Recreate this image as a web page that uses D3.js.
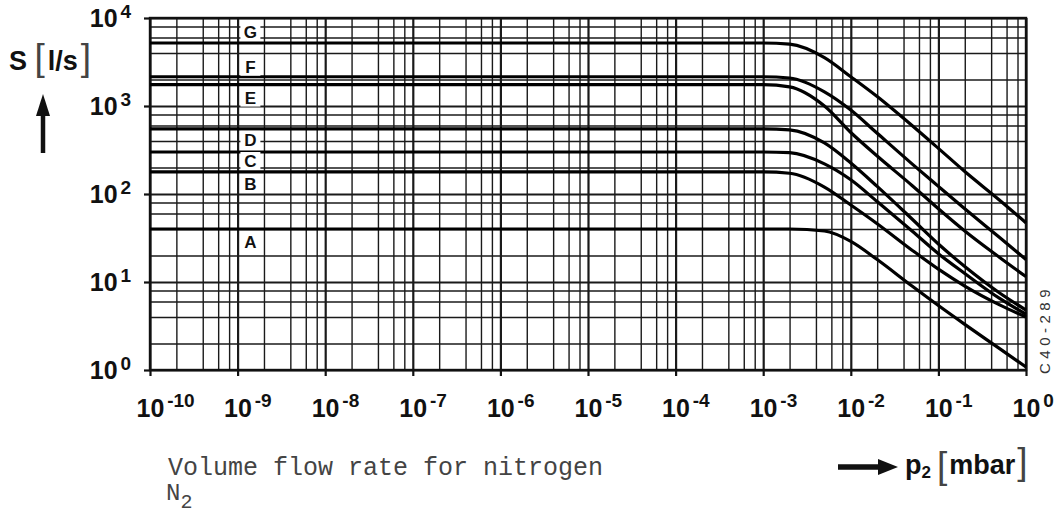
<!DOCTYPE html>
<html>
<head>
<meta charset="utf-8">
<script src="https://cdn.jsdelivr.net/npm/d3@7"></script>
<style>
  body { margin: 0; background: #fff; }
  svg text { font-family: "Liberation Sans", Arial, sans-serif; }
  .grid line { stroke: #1a1a1a; }
  .grid path { display: none; }
  .axis path { display: none; }
  .axis line { stroke: #111; stroke-width: 2.2; }
</style>
</head>
<body>
<div id="chart"></div>
<script>
// pressures p2 [mbar] where the curves were read
const pressures = [1e-10, 1e-3, 2e-3, 5e-3, 1e-2, 2e-2, 5e-2, 1e-1, 2e-1, 5e-1, 1];

// volume flow rate S [l/s] for each pump
const curveG = [5200, 5200, 5050, 3550, 2150, 1280, 600, 330, 180, 85, 47];
const curveF = [2150, 2150, 2080, 1450, 900, 490, 220, 122, 68, 32, 18];
const curveE = [1750, 1750, 1650, 1000, 500, 270, 125, 68, 38, 19, 11.5];
const curveD = [550, 550, 535, 380, 225, 122, 52, 27, 15, 7.5, 4.8];
const curveC = [300, 300, 295, 220, 145, 82, 38, 21, 12.5, 6.5, 4.3];
const curveB = [178, 178, 172, 120, 75, 46, 23, 14, 9, 5.5, 4.0];
const curveA = [40, 40, 40, 38, 29, 18, 9, 5.4, 3.3, 1.75, 1.08];

const curveNames = ["G", "F", "E", "D", "C", "B", "A"];
const curveValues = [curveG, curveF, curveE, curveD, curveC, curveB, curveA];

// axis decades
const xDecades = [-10, -9, -8, -7, -6, -5, -4, -3, -2, -1, 0];
const yDecades = [0, 1, 2, 3, 4];
const minorSteps = [2, 4, 6, 8];

const captionLines = ["Volume flow rate for nitrogen"];
const figureCode = "C40-289";

let margin = {top: 18, right: 29, bottom: 145, left: 150};
let width = 1055 - margin.left - margin.right;
let height = 515 - margin.top - margin.bottom;

let svg = d3.select("#chart").append("svg")
    .attr("width", 1055)
    .attr("height", 515);

let g = svg.append("g")
    .attr("transform", "translate(" + margin.left + "," + margin.top + ")");

// Scales
let x = d3.scaleLog()
    .domain([1e-10, 1])
    .range([0, width]);

let y = d3.scaleLog()
    .domain([1, 1e4])
    .range([height, 0]);

// minor grid values
let xMinor = [];
xDecades.slice(0, -1).forEach(function(e) {
    minorSteps.forEach(function(m) { xMinor.push(m * Math.pow(10, e)); });
});
let yMinor = [];
yDecades.slice(0, -1).forEach(function(e) {
    minorSteps.forEach(function(m) { yMinor.push(m * Math.pow(10, e)); });
});
let xMajor = xDecades.map(function(e) { return Math.pow(10, e); });
let yMajor = yDecades.map(function(e) { return Math.pow(10, e); });

// minor grid
g.append("g")
    .attr("class", "grid")
    .attr("transform", "translate(0," + height + ")")
    .call(d3.axisBottom(x).tickValues(xMinor).tickSize(-height).tickFormat(""))
    .selectAll("line").attr("stroke-width", 1.4);

g.append("g")
    .attr("class", "grid")
    .call(d3.axisLeft(y).tickValues(yMinor).tickSize(-width).tickFormat(""))
    .selectAll("line").attr("stroke-width", 1.4);

// major grid
g.append("g")
    .attr("class", "grid")
    .attr("transform", "translate(0," + height + ")")
    .call(d3.axisBottom(x).tickValues(xMajor).tickSize(-height).tickFormat(""))
    .selectAll("line").attr("stroke-width", 2.2);

g.append("g")
    .attr("class", "grid")
    .call(d3.axisLeft(y).tickValues(yMajor).tickSize(-width).tickFormat(""))
    .selectAll("line").attr("stroke-width", 2.2);

// frame
g.append("rect")
    .attr("x", 0).attr("y", 0)
    .attr("width", width).attr("height", height)
    .attr("fill", "none")
    .attr("stroke", "#111")
    .attr("stroke-width", 2.4);

// axes with superscript labels
function powerLabel(sel, exps) {
    sel.selectAll(".tick text").each(function(d, i) {
        let t = d3.select(this).text(null);
        t.append("tspan").text("10");
        t.append("tspan")
            .attr("dy", "-0.5em")
            .attr("dx", "0.15em")
            .attr("font-size", "19px")
            .text(String(exps[i]));
    });
}

let xAxis = g.append("g")
    .attr("class", "axis")
    .attr("transform", "translate(0," + height + ")")
    .call(d3.axisBottom(x).tickValues(xMajor).tickSize(6).tickPadding(23));
xAxis.selectAll(".tick text")
    .attr("font-size", "25px")
    .attr("font-weight", "bold")
    .attr("fill", "#111")
    .attr("text-anchor", "start")
    .attr("dx", "-14px");
powerLabel(xAxis, xDecades);

let yAxis = g.append("g")
    .attr("class", "axis")
    .call(d3.axisLeft(y).tickValues(yMajor).tickSize(6).tickPadding(13));
yAxis.selectAll(".tick text")
    .attr("font-size", "25px")
    .attr("font-weight", "bold")
    .attr("fill", "#111")
    .attr("text-anchor", "end")
    .attr("dy", "0.35em");
powerLabel(yAxis, yDecades);

// curves
let line = d3.line()
    .curve(d3.curveMonotoneX)
    .x(function(d) { return x(d[0]); })
    .y(function(d) { return y(d[1]); });

curveValues.forEach(function(vals) {
    g.append("path")
        .datum(pressures.map(function(p, i) { return [p, vals[i]]; }))
        .attr("fill", "none")
        .attr("stroke", "#000")
        .attr("stroke-width", 3.2)
        .attr("d", line);
});

// curve letters in little white boxes
let labelOffset = {G: -11, F: -10, E: 13, D: 11, C: 9, B: 12, A: 13};
curveNames.forEach(function(name, i) {
    let ly = y(curveValues[i][0]) + labelOffset[name];
    g.append("rect")
        .attr("x", x(1.4e-9) - 10)
        .attr("y", ly - 9)
        .attr("width", 20)
        .attr("height", 18)
        .attr("fill", "#fff");
    g.append("text")
        .attr("x", x(1.4e-9))
        .attr("y", ly)
        .attr("dy", "0.36em")
        .attr("text-anchor", "middle")
        .attr("font-size", "17px")
        .attr("font-weight", "bold")
        .attr("fill", "#111")
        .text(name);
});

// y title: S [l/s] with arrow
let yt = svg.append("text")
    .attr("x", 9)
    .attr("y", 70)
    .attr("fill", "#111");
yt.append("tspan").attr("font-size", "27px").attr("font-weight", "bold").text("S ");
yt.append("tspan").attr("font-size", "37px").attr("font-weight", "normal").attr("fill", "#444").text("[");
yt.append("tspan").attr("font-size", "27px").attr("font-weight", "bold").attr("dx", "3").text("l/s");
yt.append("tspan").attr("font-size", "37px").attr("font-weight", "normal").attr("fill", "#444").attr("dx", "3").text("]");

svg.append("line")
    .attr("x1", 43).attr("x2", 43)
    .attr("y1", 153).attr("y2", 108)
    .attr("stroke", "#111").attr("stroke-width", 4.5);
svg.append("path")
    .attr("d", "M43,94 L36,116 L50,116 Z")
    .attr("fill", "#111");

// x title: arrow p2 [mbar]
svg.append("line")
    .attr("x1", 838).attr("x2", 884)
    .attr("y1", 467).attr("y2", 467)
    .attr("stroke", "#111").attr("stroke-width", 5.5);
svg.append("path")
    .attr("d", "M898,467 L878,459 L878,475 Z")
    .attr("fill", "#111");

let xt = svg.append("text")
    .attr("x", 905)
    .attr("y", 474)
    .attr("fill", "#111");
xt.append("tspan").attr("font-size", "27px").attr("font-weight", "bold").text("p");
xt.append("tspan").attr("font-size", "17px").attr("font-weight", "bold").attr("dy", "4").text("2");
xt.append("tspan").attr("font-size", "37px").attr("font-weight", "normal").attr("fill", "#444").attr("dy", "0").attr("dx", "6").text("[");
xt.append("tspan").attr("font-size", "27px").attr("font-weight", "bold").attr("dy", "-4").attr("dx", "2").text("mbar");
xt.append("tspan").attr("font-size", "37px").attr("font-weight", "normal").attr("fill", "#444").attr("dx", "2").text("]");

// caption in typewriter font
svg.append("text")
    .attr("x", 168)
    .attr("y", 475)
    .style("font-family", "'Liberation Mono', 'DejaVu Sans Mono', monospace")
    .attr("font-size", "25px")
    .attr("fill", "#444")
    .text(captionLines[0]);

let n2 = svg.append("text")
    .attr("x", 166)
    .attr("y", 500)
    .style("font-family", "'Liberation Mono', 'DejaVu Sans Mono', monospace")
    .attr("font-size", "24px")
    .attr("fill", "#444");
n2.append("tspan").text("N");
n2.append("tspan").attr("dy", "8").attr("font-size", "20px").text("2");

// figure code at the right edge
svg.append("text")
    .attr("transform", "translate(1050,374) rotate(-90)")
    .attr("font-size", "15px")
    .attr("letter-spacing", "4.5px")
    .attr("fill", "#333")
    .text(figureCode);
</script>
</body>
</html>
